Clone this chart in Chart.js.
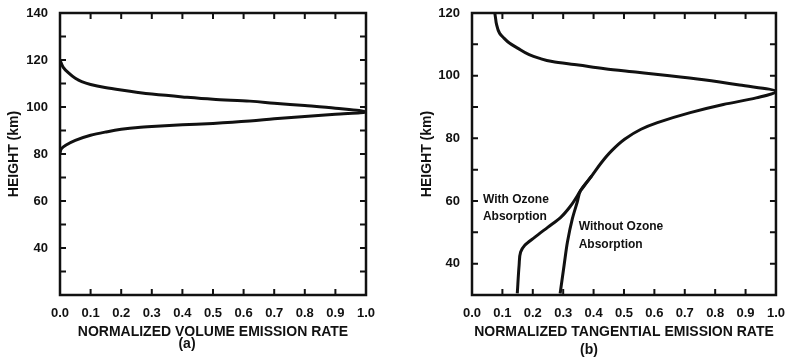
<!DOCTYPE html>
<html>
<head>
<title>Normalized Emission Rate Profiles</title>
<script src="https://cdn.jsdelivr.net/npm/chart.js"></script>
<style>
    body {
        margin: 0;
        background-color: #fff;
    }
    .panel {
        position: absolute;
        top: 0;
        width: 394px;
        height: 359px;
    }
</style>
</head>
<body>
<div class="panel" style="left:0"><canvas id="volChart"></canvas></div>
<div class="panel" style="left:394px"><canvas id="tanChart"></canvas></div>

<script>
// (a) volume emission rate, one curve through the peak
var volRate = [0, 0.01, 0.027, 0.05, 0.071, 0.1, 0.147, 0.2, 0.255, 0.3, 0.4, 0.5, 0.62, 0.7, 0.8, 0.9, 1.0,
               0.9, 0.8, 0.7, 0.62, 0.5, 0.4, 0.3, 0.255, 0.2, 0.147, 0.1, 0.05, 0.02, 0.005, 0];
var volHeight = [120, 117, 114.6, 112.2, 110.8, 109.6, 108.3, 107.2, 106.2, 105.5, 104.3, 103.3, 102.5, 101.6, 100.6, 99.5, 97.8,
                 96.9, 96.0, 95.0, 94.0, 93.0, 92.4, 91.7, 91.3, 90.5, 89.3, 88.0, 85.8, 83.8, 82.3, 80.5];

// (b) tangential emission rate, shared part down to the branch point
var tanRate = [0.075, 0.078, 0.08, 0.091, 0.105, 0.123, 0.15, 0.188, 0.22, 0.264, 0.35, 0.437, 0.545, 0.65, 0.762, 0.88, 1.0,
               0.935, 0.827, 0.718, 0.61, 0.556, 0.502, 0.459, 0.426, 0.394, 0.357];
var tanHeight = [120, 118, 116.7, 113.5, 112, 110.4, 108.8, 106.7, 105.6, 104.5, 103.4, 102.2, 101.1, 100, 98.7, 97, 95,
                 92.9, 90.8, 88.2, 85.0, 82.9, 79.7, 76.0, 72.3, 68.0, 63.3];
var ozoneRate = [0.357, 0.325, 0.292, 0.249, 0.206, 0.173, 0.16, 0.155, 0.149];
var ozoneHeight = [63.3, 58.5, 54.8, 51.6, 48.4, 45.8, 43.7, 39.5, 30.5];
var noOzoneRate = [0.394, 0.357, 0.346, 0.33, 0.314, 0.303, 0.29];
var noOzoneHeight = [68.0, 63.3, 59.6, 54.3, 46.9, 39.5, 30.5];

var volHeightLabels = [40, 60, 80, 100, 120, 140];
var tanHeightLabels = [40, 60, 80, 100, 120];

var fontFamily = "'Liberation Sans', Arial, sans-serif";
var ink = '#111';
Chart.defaults.font.family = fontFamily;
Chart.defaults.color = ink;

function toPoints(xs, ys) {
    return xs.map(function (x, i) { return { x: x, y: ys[i] }; });
}

// box round the plot, inward ticks on all four sides, and the text notes
var framePlugin = {
    id: 'frame',
    afterDraw: function (chart, args, opts) {
        var ctx = chart.ctx;
        var area = chart.chartArea;
        var xs = chart.scales.x, ys = chart.scales.y;
        ctx.save();
        ctx.strokeStyle = ink;
        ctx.lineWidth = 2.5;
        ctx.strokeRect(area.left, area.top, area.right - area.left, area.bottom - area.top);
        ctx.lineWidth = 2;
        ctx.beginPath();
        xs.ticks.forEach(function (t) {
            if (t.value <= xs.min + 1e-6 || t.value >= xs.max - 1e-6) return;
            var px = xs.getPixelForValue(t.value);
            ctx.moveTo(px, area.bottom); ctx.lineTo(px, area.bottom - 6);
            ctx.moveTo(px, area.top); ctx.lineTo(px, area.top + 6);
        });
        ys.ticks.forEach(function (t) {
            if (t.value <= ys.min || t.value >= ys.max) return;
            var py = ys.getPixelForValue(t.value);
            ctx.moveTo(area.left, py); ctx.lineTo(area.left + 6, py);
            ctx.moveTo(area.right, py); ctx.lineTo(area.right - 6, py);
        });
        ctx.stroke();

        ctx.fillStyle = ink;
        ctx.textBaseline = 'middle';
        ctx.textAlign = 'left';
        ctx.font = 'bold 12px ' + fontFamily;
        (opts.notes || []).forEach(function (n) {
            ctx.fillText(n.text, xs.getPixelForValue(n.x), ys.getPixelForValue(n.y));
        });
        if (opts.panel) {
            ctx.textAlign = 'center';
            ctx.font = 'bold 14px ' + fontFamily;
            ctx.fillText(opts.panel.text, xs.getPixelForValue(opts.panel.x), opts.panel.y);
        }
        ctx.restore();
    }
};

function makeOptions(cfg) {
    return {
        responsive: true,
        maintainAspectRatio: false,
        animation: false,
        indexAxis: 'y', // heights fall monotonically along every curve
        layout: { padding: { top: 13, right: cfg.right, left: 0, bottom: 0 } },
        plugins: {
            legend: { display: false },
            tooltip: { enabled: false },
            frame: { notes: cfg.notes, panel: cfg.panel }
        },
        elements: {
            point: { radius: 0 },
            line: { borderWidth: 3, borderColor: ink, cubicInterpolationMode: 'monotone', fill: false }
        },
        scales: {
            x: {
                type: 'linear',
                min: 0,
                max: 1,
                grid: { display: false },
                border: { display: false },
                ticks: {
                    stepSize: 0.1,
                    autoSkip: false,
                    maxRotation: 0,
                    padding: 3,
                    font: { size: 13, weight: 'bold' },
                    callback: function (v) { return v.toFixed(1); }
                },
                title: {
                    display: true,
                    text: cfg.xTitle,
                    font: { size: 14, weight: 'bold' },
                    padding: { top: 0, bottom: 18 }
                },
                afterFit: function (s) { s.height = 64; }
            },
            y: {
                type: 'linear',
                min: cfg.yMin,
                max: cfg.yMax,
                grid: { display: false },
                border: { display: false },
                ticks: {
                    stepSize: 10,
                    autoSkip: false,
                    padding: 4,
                    font: { size: 13, weight: 'bold' },
                    callback: function (v) { return cfg.yLabels.indexOf(v) >= 0 ? v : ''; }
                },
                title: {
                    display: true,
                    text: 'HEIGHT (km)',
                    font: { size: 14, weight: 'bold' },
                    padding: { top: cfg.yTitlePad, bottom: 0 }
                },
                afterFit: function (s) { s.width = cfg.yWidth; }
            }
        }
    };
}

new Chart(document.getElementById('volChart'), {
    type: 'scatter',
    data: {
        datasets: [{ data: toPoints(volRate, volHeight), showLine: true }]
    },
    options: makeOptions({
        right: 28, yWidth: 60, yTitlePad: 6, yMin: 20, yMax: 140,
        yLabels: volHeightLabels,
        xTitle: 'NORMALIZED VOLUME EMISSION RATE',
        panel: { text: '(a)', x: 0.415, y: 344 }
    }),
    plugins: [framePlugin]
});

new Chart(document.getElementById('tanChart'), {
    type: 'scatter',
    data: {
        datasets: [
            { data: toPoints(tanRate, tanHeight), showLine: true },
            { data: toPoints(ozoneRate, ozoneHeight), showLine: true },
            { data: toPoints(noOzoneRate, noOzoneHeight), showLine: true }
        ]
    },
    options: makeOptions({
        right: 8, yWidth: 78, yTitlePad: 25, yMin: 30, yMax: 120,
        yLabels: tanHeightLabels,
        xTitle: 'NORMALIZED TANGENTIAL EMISSION RATE',
        panel: { text: '(b)', x: 0.385, y: 350 },
        notes: [
            { text: 'With Ozone', x: 0.036, y: 60.3 },
            { text: 'Absorption', x: 0.036, y: 54.9 },
            { text: 'Without Ozone', x: 0.351, y: 51.7 },
            { text: 'Absorption', x: 0.351, y: 46 }
        ]
    }),
    plugins: [framePlugin]
});
</script>
</body>
</html>
